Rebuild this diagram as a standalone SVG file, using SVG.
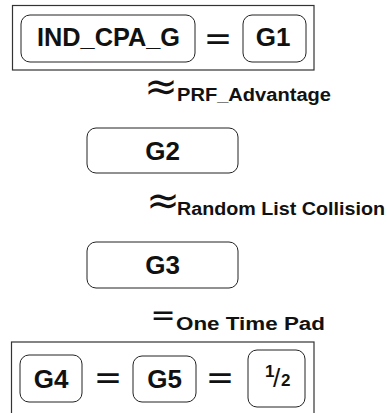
<svg xmlns="http://www.w3.org/2000/svg" width="388" height="413" viewBox="0 0 388 413">
  <style>
    .frame { fill: none; stroke: #333; stroke-width: 1.2; }
    .game { fill: #fff; stroke: #222; stroke-width: 1; }
    .name { font-family: "Liberation Sans", Arial, sans-serif; font-weight: bold; font-size: 26px; fill: #111; }
    .rel { font-family: "DejaVu Sans", sans-serif; fill: #111; }
    .sub { font-family: "Liberation Sans", Arial, sans-serif; font-weight: bold; font-size: 18px; fill: #111; }
  </style>
  <rect width="388" height="413" fill="#fff"/>

  <!-- enclosing frames for equal games -->
  <rect class="frame" x="12.5" y="5.5" width="301.5" height="64.5"/>
  <rect class="frame" x="11.5" y="342" width="302.5" height="90"/>

  <g id="ind_cpa_g">
    <rect class="game" x="21" y="15" width="174" height="47" rx="9"/>
    <text class="name" x="108.5" y="46" text-anchor="middle" textLength="143" lengthAdjust="spacingAndGlyphs">IND_CPA_G</text>
  </g>
  <g id="g1">
    <rect class="game" x="243" y="15" width="63" height="47" rx="9"/>
    <text class="name" x="273" y="46" text-anchor="middle">G1</text>
  </g>
  <g id="g2">
    <rect class="game" x="87" y="128" width="151" height="45" rx="9"/>
    <text class="name" x="162.5" y="160" text-anchor="middle">G2</text>
  </g>
  <g id="g3">
    <rect class="game" x="87" y="242" width="151" height="46" rx="9"/>
    <text class="name" x="162.5" y="274" text-anchor="middle">G3</text>
  </g>
  <g id="g4">
    <rect class="game" x="20" y="355" width="62" height="47" rx="9"/>
    <text class="name" x="51" y="388" text-anchor="middle">G4</text>
  </g>
  <g id="g5">
    <rect class="game" x="133" y="356" width="63" height="46" rx="9"/>
    <text class="name" x="164.5" y="388" text-anchor="middle">G5</text>
  </g>
  <g id="half">
    <rect class="game" x="248" y="350" width="57" height="57" rx="9"/>
    <text font-family="Liberation Sans, Arial, sans-serif" fill="#111" font-weight="bold">
      <tspan x="265" y="377" font-size="17">1</tspan><tspan x="273" y="387" font-size="26" font-weight="normal">/</tspan><tspan x="281" y="386" font-size="17">2</tspan>
    </text>
  </g>

  <!-- relations between games -->
  <g id="connectors">
    <text class="rel" x="218" y="50" font-size="34" text-anchor="middle">=</text>
    <text class="rel" x="108" y="389" font-size="34" text-anchor="middle">=</text>
    <text class="rel" x="220" y="389" font-size="34" text-anchor="middle">=</text>

    <text class="rel" x="161" y="100" font-size="40" text-anchor="middle" fill="#333">≈</text>
    <text class="sub" x="177" y="101" textLength="154" lengthAdjust="spacingAndGlyphs">PRF_Advantage</text>

    <text class="rel" x="163" y="214" font-size="40" text-anchor="middle" fill="#333">≈</text>
    <text class="sub" x="177" y="215" textLength="208" lengthAdjust="spacingAndGlyphs">Random List Collision</text>

    <text class="rel" x="163" y="325" font-size="30" text-anchor="middle" fill="#555">=</text>
    <text class="sub" x="176" y="330" textLength="149" lengthAdjust="spacingAndGlyphs">One Time Pad</text>
  </g>
</svg>
